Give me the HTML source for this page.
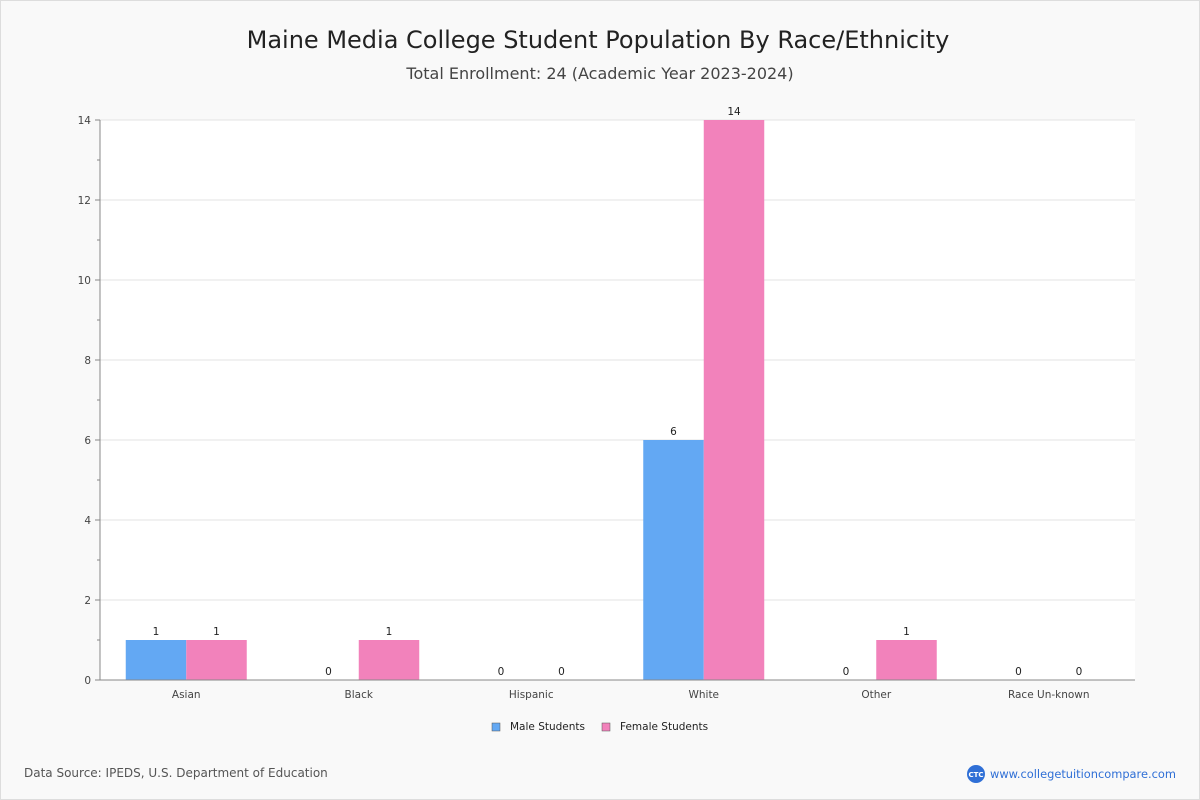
<!DOCTYPE html>
<html><head><meta charset="utf-8"><style>
body{margin:0;width:1200px;height:800px;background:#f9f9f9;font-family:"DejaVu Sans","Liberation Sans",sans-serif;overflow:hidden}
#frame{position:absolute;left:0;top:0;width:1198px;height:798px;border:1px solid #ddd}
</style></head><body>
<div id="frame"></div>
<svg width="1200" height="800" style="position:absolute;left:0;top:0">
<text x="598" y="48" text-anchor="middle" font-size="24" fill="#222">Maine Media College Student Population By Race/Ethnicity</text>
<text x="600" y="79" text-anchor="middle" font-size="16" fill="#444">Total Enrollment: 24 (Academic Year 2023-2024)</text>
<rect x="100" y="120" width="1035" height="560" fill="#fff"/>
<g id="grid"></g><g id="bars"></g><g id="axes"></g>
<g>
<rect x="492" y="723" width="8" height="8" fill="#63a8f3" stroke="#555" stroke-width="0.5"/>
<text x="510" y="730" font-size="10.5" fill="#222">Male Students</text>
<rect x="602" y="723" width="8" height="8" fill="#f282bb" stroke="#555" stroke-width="0.5"/>
<text x="620" y="730" font-size="10.5" fill="#222">Female Students</text>
</g>
<text x="24" y="777" font-size="12" fill="#555">Data Source: IPEDS, U.S. Department of Education</text>
<circle cx="976" cy="774" r="9" fill="#2f6fd6"/>
<text x="976" y="777" text-anchor="middle" font-size="7" fill="#fff" font-weight="bold">CTC</text>
<text x="990" y="778" font-size="11.4" fill="#2f6fd6">www.collegetuitioncompare.com</text>
</svg>
<script>
const categories=["Asian","Black","Hispanic","White","Other","Race Un-known"];
const male=[1,0,0,6,0,0];
const female=[1,1,0,14,1,0];
const yTicks=[0,2,4,6,8,10,12,14];
const NS="http://www.w3.org/2000/svg";
const X0=100,X1=1135,Y0=680,Y1=120,YMAX=14;
const y=v=>Y0-(v/YMAX)*(Y0-Y1);
const bw=(X1-X0)/categories.length;
const xc=i=>X0+bw*(i+0.5);
function mk(tag,attrs,parent){const e=document.createElementNS(NS,tag);for(const k in attrs)e.setAttribute(k,attrs[k]);document.getElementById(parent).appendChild(e);return e;}
yTicks.forEach(t=>{
  if(t>0){const g=mk('line',{x1:X0,x2:X1,y1:y(t),y2:y(t),stroke:'#e3e3e3'},'grid');
  
  }
  const tk=mk('line',{x1:X0-5,x2:X0,y1:y(t),y2:y(t),stroke:'#888'},'axes');
  
  
  const l=mk('text',{x:X0-9,y:y(t)+4,'text-anchor':'end','font-size':10.5,fill:'#444'},'axes');l.textContent=t;
  
  
});
for(let v=1;v<YMAX;v+=2){const m=mk('line',{x1:X0-3,x2:X0,y1:y(v),y2:y(v),stroke:'#888'},'axes');

}
const ax=mk('line',{x1:X0,x2:X0,y1:Y1,y2:Y0,stroke:'#888'},'axes');


const bx=mk('line',{x1:X0,x2:X1,y1:Y0,y2:Y0,stroke:'#888'},'axes');


const barW=60.5;
categories.forEach((c,i)=>{
  const cx=xc(i);
  [[male[i],cx-barW,'#63a8f3','male'],[female[i],cx,'#f282bb','female']].forEach(([v,x,col,s])=>{
    const r=mk('rect',{x:x,y:y(v),width:barW,height:Y0-y(v),fill:col},'bars');
    
    
    const t=mk('text',{x:x+barW/2,y:y(v)-5,'text-anchor':'middle','font-size':10.5,fill:'#222'},'bars');t.textContent=v;
    
    
  });
  const l=mk('text',{x:cx,y:Y0+18,'text-anchor':'middle','font-size':10.5,fill:'#444'},'axes');l.textContent=c;
  
  
});
</script>
</body></html>
